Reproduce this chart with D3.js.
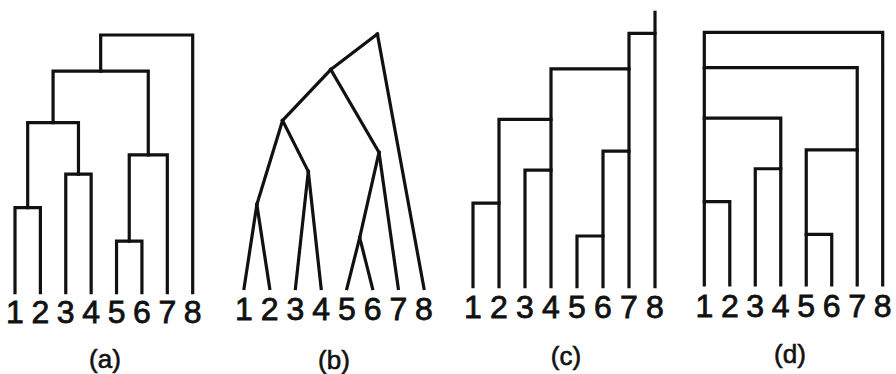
<!DOCTYPE html>
<html>
<head>
<meta charset="utf-8">
<script src="https://cdn.jsdelivr.net/npm/d3@7"></script>
<style>
  body { margin: 0; background: #fff; }
  svg { display: block; }
</style>
</head>
<body>
<div id="chart"></div>
<script>
// leaves and merge steps (same tree drawn four ways)
const leaves = ["1", "2", "3", "4", "5", "6", "7", "8"];
// each merge: [left cluster, right cluster]; clusters 0-7 are leaves, 8+ are merges in order
const mergePairs = [[0, 1], [2, 3], [4, 5], [8, 9], [10, 6], [11, 12], [13, 7]];
// merge heights, root = 10
const mergeHeights = [3.3, 4.6, 2.0, 6.6, 5.35, 8.6, 10];
const panelLabels = ["(a)", "(b)", "(c)", "(d)"];
const panelStyles = ["mid", "slant", "right", "nested"];

const width = 896, height = 374;

// per panel placement
const panels = [
    { x0: 15, x1: 192.7, base: 292.7, top: 35, digitY: 323, capX: 105, capY: 368 },
    { x0: 244, x1: 424, base: 288.5, top: 34, digitY: 320, capX: 334, capY: 369 },
    { x0: 473, x1: 655, base: 286.7, top: 33.3, digitY: 318, capX: 566, capY: 365 },
    { x0: 704.3, x1: 882.7, base: 285, top: 32.3, digitY: 316.7, capX: 790, capY: 363 }
];

const svg = d3.select("#chart")
    .append("svg")
    .attr("width", width)
    .attr("height", height);

// build the cluster nodes once
function buildNodes() {
    const nodes = leaves.map((d, i) => ({ id: i, name: d, h: 0, leaves: [i] }));
    mergePairs.forEach((p, i) => {
        const a = nodes[p[0]], b = nodes[p[1]];
        a.parent = nodes.length; a.side = "left";
        b.parent = nodes.length; b.side = "right";
        nodes.push({ id: nodes.length, h: mergeHeights[i], kids: [a, b], leaves: a.leaves.concat(b.leaves) });
    });
    return nodes;
}

panels.forEach((p, pi) => {
    const style = panelStyles[pi];
    const nodes = buildNodes();
    const x = d3.scalePoint().domain(d3.range(leaves.length)).range([p.x0, p.x1]);
    const y = d3.scaleLinear().domain([0, d3.max(mergeHeights)]).range([p.base, p.top]);

    // x anchor of each node depending on drawing style
    nodes.forEach(n => {
        if (!n.kids) { n.x = x(n.id); return; }
        const [a, b] = n.kids;
        if (style === "mid" || style === "slant") n.x = (a.x + b.x) / 2;
        else if (style === "right") n.x = x(d3.max(n.leaves));
        else n.x = n.side === "right" ? x(d3.max(n.leaves)) : x(d3.min(n.leaves));
    });

    const g = svg.append("g");
    const segs = [];
    nodes.forEach(n => {
        if (!n.kids) return;
        const [a, b] = n.kids;
        if (style === "slant") {
            segs.push([[n.x, y(n.h)], [a.x, y(a.h)]]);
            segs.push([[n.x, y(n.h)], [b.x, y(b.h)]]);
        } else {
            segs.push([[a.x, y(a.h)], [a.x, y(n.h)], [b.x, y(n.h)], [b.x, y(b.h)]]);
        }
    });
    // stem above the root in (c)
    if (style === "right") {
        const root = nodes[nodes.length - 1];
        segs.push([[root.x, y(root.h)], [root.x, y(root.h) - 21]]);
    }

    g.selectAll("path")
        .data(segs)
        .enter()
        .append("path")
        .attr("d", d3.line())
        .attr("fill", "none")
        .attr("stroke", "#111")
        .attr("stroke-width", 3.2)
        .attr("stroke-linejoin", "miter")
        .attr("stroke-linecap", "square");

    g.selectAll("text.leaf")
        .data(leaves)
        .enter()
        .append("text")
        .attr("class", "leaf")
        .attr("x", (d, i) => x(i))
        .attr("y", p.digitY)
        .attr("text-anchor", "middle")
        .attr("font-family", "Liberation Sans, Arial, sans-serif")
        .attr("font-size", 32)
        .attr("fill", "#111")
        .attr("stroke", "#111")
        .attr("stroke-width", 0.8)
        .text(d => d);

    g.append("text")
        .attr("x", p.capX)
        .attr("y", p.capY)
        .attr("text-anchor", "middle")
        .attr("font-family", "Liberation Sans, Arial, sans-serif")
        .attr("font-size", 26)
        .attr("fill", "#111")
        .attr("stroke", "#111")
        .attr("stroke-width", 0.6)
        .text(panelLabels[pi]);
});
</script>
</body>
</html>
